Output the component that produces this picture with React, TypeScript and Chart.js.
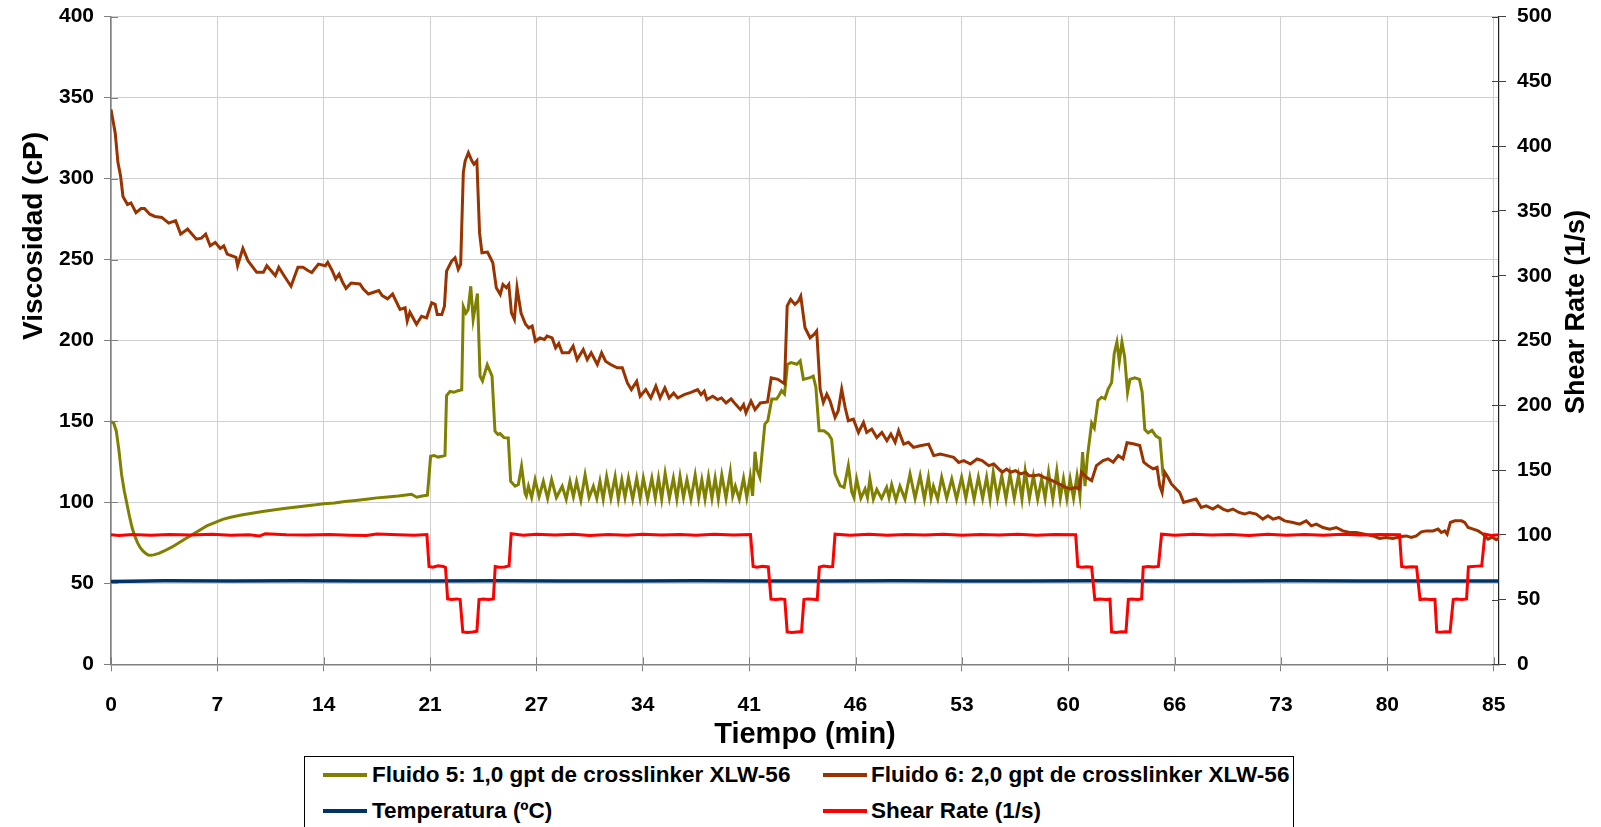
import React, { useEffect, useRef } from 'react';
import { Chart, registerables } from 'chart.js';

Chart.register(...registerables);

// ---- Axis / labels ----
const TIME_LABELS = ['0', '7', '14', '21', '27', '34', '41', '46', '53', '60', '66', '73', '80', '85'];
const SAMPLES_PER_LABEL = 40; // readings between two labelled times
const LAST_SAMPLE = 522;
const Y_LEFT_MAX = 400;
const Y_RIGHT_MAX = 500;
const Y_STEP = 50;

const X_TITLE = 'Tiempo (min)';
const Y_LEFT_TITLE = 'Viscosidad (cP)';
const Y_RIGHT_TITLE = 'Shear Rate (1/s)';

const SERIES_NAMES = [
  'Fluido 5: 1,0 gpt de crosslinker XLW-56',
  'Fluido 6: 2,0 gpt de crosslinker XLW-56',
  'Temperatura (ºC)',
  'Shear Rate (1/s)',
];
const SERIES_COLORS = ['#808000', '#993300', '#003366', '#ff0000'];

// ---- Data: [sample index, value] ----
const FLUIDO5: [number, number][] = [
  [0, 150], [1, 149], [2, 144], [3, 132], [4, 117], [5, 107], [6, 99], [7, 91], [8, 84], [9, 79], [10, 75],
  [11, 72], [12, 70], [13, 68.5], [14, 67.5], [15, 67.3], [16, 67.6], [18, 68.5], [20, 70], [23, 72.5],
  [26, 75.5], [30, 79.5], [33, 82.5], [36, 85.5], [39, 87.5], [42, 89.5], [45, 90.8], [49, 92.2], [53, 93.3],
  [57, 94.4], [61, 95.3], [65, 96.2], [69, 97], [73, 97.8], [77, 98.5], [80, 99.2], [84, 99.6], [88, 100.5],
  [92, 101.2], [96, 102], [100, 102.8], [104, 103.4], [108, 104], [111, 104.6], [113, 105], [115, 103.2],
  [117, 104], [119, 104.5],
  [120.2, 128.5], [121.5, 129], [123, 128], [124.5, 128.5], [125.6, 129], [126.2, 166], [127.5, 168.5],
  [129, 168], [130.5, 169], [131.9, 169.5], [132.5, 221], [133.5, 217], [134.3, 219], [135.3, 233.5],
  [136.2, 213], [137.8, 229], [138.8, 178], [139.7, 175], [141.5, 185], [143.3, 178], [144.4, 144],
  [145.5, 142], [146.3, 142.5], [147.8, 140], [149.4, 139.8], [150.3, 113], [152, 110], [153.2, 111],
  [154.4, 122.3], [155.7, 105.8],
  [156.2, 104], [157, 110], [158.2, 103], [159.5, 114], [161, 103.5], [162.6, 113], [164.2, 102.5],
  [165.7, 114], [167.5, 103], [169.7, 110], [171.2, 102], [172.6, 113], [173.9, 103.5], [175.1, 113],
  [176.7, 101.5], [178.3, 117], [179.8, 103], [181.4, 110], [182.7, 102.5], [183.9, 113], [185.1, 102],
  [186.4, 116], [188, 102.5], [189.6, 116], [190.8, 102], [192.1, 114], [193.3, 103], [194.6, 115],
  [196.2, 102], [197.7, 115], [199, 102.5], [200.2, 115], [201.8, 102], [203.4, 115], [204.7, 102.5],
  [205.9, 115], [207.1, 102], [208.4, 118], [210, 102.5], [211.5, 115], [212.8, 102], [214, 116],
  [215.3, 103], [216.6, 114], [218.1, 102], [219.7, 117], [221, 102.5], [222.2, 114], [223.4, 102],
  [224.7, 116], [226, 102.5], [227.2, 115], [228.4, 102], [229.7, 117], [231.3, 102.5], [232.9, 119],
  [233.8, 104], [234.8, 110], [236.3, 102], [237.9, 115], [239.1, 103], [240.4, 116], [241.3, 104],
  [242.2, 131.3], [243, 120], [244, 115.5], [245.9, 148.4], [247, 150.4], [248.5, 163.8], [250.3, 163.8],
  [251.2, 166], [252.2, 169], [253.3, 167], [254.4, 185.3], [255.8, 186.3], [257.9, 185.3], [259.2, 187.4],
  [260.4, 176], [262.9, 177.1], [264.1, 178], [265.1, 171], [266.3, 144.3], [268.1, 144.3], [269.8, 142.2],
  [271, 139], [272.3, 117.6], [274.2, 110.4], [275.7, 109.3], [277.3, 122.7], [278.6, 106.3],
  [279.4, 103], [280.4, 114.5], [282, 102.5], [283.6, 108.3], [284.5, 103], [285.4, 114.5], [286.7, 102],
  [288, 108], [289.8, 102.5], [291.7, 109.3], [292.6, 103], [293.6, 111], [295.2, 101.5], [296.7, 110],
  [298.6, 102], [300.5, 117.5], [302.4, 102.5], [304.3, 116.5], [305.9, 102], [307.4, 115.5], [308.4, 103],
  [309.3, 110], [310.9, 102], [312.4, 115.5], [314.3, 102.5], [316.2, 114.5], [318, 102], [319.9, 115.5],
  [321.5, 102.5], [323, 115.5], [324.6, 102], [326.2, 115.5], [327.8, 102.5], [329.3, 115.5], [330.6, 102],
  [331.8, 118.6], [333.4, 102.5], [335, 116.5], [336.6, 102], [338.1, 117.5], [339.7, 102.5], [341.3, 116.5],
  [342.6, 102], [343.8, 119.6], [345.4, 102.5], [346.9, 116.5], [348.5, 102], [350, 114.5], [351.3, 102.5],
  [352.6, 118.6], [354.2, 102], [355.7, 119.6], [357, 102.5], [358.2, 114.5], [359.5, 102], [360.7, 114.5],
  [362, 102.5], [363.3, 116.5], [364.4, 104],
  [365.4, 131], [366.3, 110], [367.2, 128], [368.8, 149], [369.8, 146], [371.2, 163], [372.5, 165],
  [373.8, 164], [375, 170], [376.3, 174], [377.3, 192], [378.3, 199], [379.2, 187], [380.2, 199],
  [381.2, 190], [382.3, 168], [383.2, 176], [385, 177], [386.8, 176], [387.8, 168], [388.8, 145],
  [390, 143], [391.5, 144.5], [393, 141], [394.5, 139.5], [395.7, 116],
];

const FLUIDO6: [number, number][] = [
  [0, 342.7], [1.6, 328], [2.6, 310], [3.6, 301.6], [4.5, 289], [6.2, 284], [7.5, 285], [9.4, 279],
  [11.3, 281.5], [12.6, 281.5], [14.6, 278], [16.5, 276.6], [19.1, 276], [21.7, 272.5], [24.3, 274],
  [26.2, 265.7], [28.8, 268.8], [32.1, 262.6], [34, 263.2], [35.6, 265.7], [37.3, 258.5], [39.2, 260.6],
  [41.1, 256.9], [42.4, 258.5], [43.7, 253.4], [47, 251.3], [47.6, 246.2], [49.6, 256.9], [51.5, 249.3],
  [54.8, 242.1], [57.3, 242.1], [58.6, 246.2], [61.8, 240], [63.1, 245.2], [65.1, 240], [67.7, 233.5],
  [70.3, 245.2], [72.2, 245.2], [74.2, 243.1], [75.5, 242], [78, 247.2], [80.6, 246.2], [81.5, 248.3],
  [83.2, 243.1], [84.5, 238], [85.8, 241], [87.1, 236], [88.4, 232.2], [90.3, 235.5], [93.6, 234.9],
  [94.9, 231.8], [96.8, 228.7], [98.8, 229.8], [100.7, 230.8], [102, 227.7], [104, 225.7], [105.9, 228.7],
  [108.7, 219.2], [110.6, 220.2], [111.4, 212], [112.4, 217.5], [114.9, 210], [116.8, 215], [118.7, 214],
  [120.6, 223.3], [121.9, 222.3], [122.7, 216], [124.4, 216], [125.4, 221.2], [126.2, 242.9], [128.1, 249],
  [129.4, 251.1], [130.6, 244], [131.5, 247], [132.5, 303.7], [133.2, 311], [134.4, 316], [135.7, 311],
  [136.5, 308.9], [137.6, 311], [138.6, 266.6], [139.5, 254.2], [141.6, 254.6], [143.6, 248], [144.9, 232.6],
  [146.4, 228.5], [147.4, 234.6], [148.7, 232.6], [149.6, 234.6], [150.6, 217], [151.7, 213], [152.7, 232.6],
  [154.2, 217], [155.9, 210], [157.1, 207.8], [158.4, 208.9], [159.6, 199.6], [161.3, 201.6], [163, 200.6],
  [164, 202.7], [165.9, 201.6], [167.2, 195.5], [168.4, 198.1], [169.7, 192.4], [172.2, 192.4], [173.8, 196.5],
  [175.3, 188.2], [177.6, 194.4], [179.1, 188.2], [180.6, 192.4], [182.9, 185.2], [184.5, 192.4], [186, 187.2],
  [187.9, 185.2], [190.4, 183.1], [192.3, 183.1], [194.2, 173.8], [195.7, 169.7], [197.7, 174.8], [199, 165.6],
  [201.1, 169.7], [203, 164.5], [204.9, 171.8], [206.5, 164.5], [208.3, 170.7], [209.9, 164.5], [211.6, 167.6],
  [213.1, 164.5], [215.6, 166.6], [218.1, 168], [220.6, 169.7], [221.9, 166.6], [223.1, 168.7], [224.1, 163.5],
  [226.3, 165.6], [228.1, 163.5], [229.6, 164.5], [231.3, 161.4], [233.2, 163.9], [235, 160.4], [236.7, 157.3],
  [237.9, 160.4], [238.8, 155.3], [240.7, 162.5], [242.2, 157.3], [244.2, 161.4], [246.9, 162], [248.3, 177],
  [250.8, 176], [253.3, 173.3], [254.3, 221.3], [255.6, 225.4], [257.2, 222.3], [258.5, 224.3], [259.4, 227.4],
  [261, 207.9], [262.9, 201.7], [264.4, 203.8], [265.4, 205.9], [266.7, 169.9], [267.9, 161.7], [269.2, 166.8],
  [270.4, 162.7], [272.3, 152.5], [273.5, 156.6], [274.8, 169.9], [276.1, 158.6], [277.3, 150.4], [279.2, 151.4],
  [281.1, 143.2], [283, 149.4], [284.2, 143.2], [286.1, 145.3], [288, 140.1], [289.9, 143.2], [291.8, 138.1],
  [293.3, 142.2], [294.9, 137.1], [296.2, 144.3], [298.1, 136], [299.9, 137.1], [301.8, 134], [304.3, 135],
  [307.5, 136], [309.4, 128.9], [311.9, 129.9], [314.4, 128.9], [316.9, 127.8], [318.8, 124.7], [320.7, 125.8],
  [323.2, 123.7], [325.7, 126.8], [327.6, 125.8], [330.1, 122.7], [332, 123.7], [333.9, 120.6], [335.2, 118.6],
  [336.8, 120.6], [338.3, 118.6], [340.2, 119.6], [342.1, 117.6], [344, 118.6], [345.2, 116.5], [347.1, 116.5],
  [349, 117], [350.9, 115.5], [353.2, 114], [355.3, 112.4], [357, 111], [359.1, 109.3], [360.9, 108.3],
  [362.8, 109.3], [364.1, 108.3], [365, 118.6], [366.9, 115.5], [368.8, 113.4], [370.6, 122.7], [373.1, 125.8],
  [375, 126.9], [376.9, 124.8], [378.8, 128.9], [380.6, 126.9], [382.1, 136.8], [384.4, 136.2], [386.9, 135.1],
  [388.4, 124.8], [390, 122.7], [391.9, 120.7], [393.4, 121.7], [394.4, 110.3], [395.3, 106.2], [396.3, 118.6],
  [397.5, 115.5], [398.8, 111.4], [400.6, 108.3], [401.9, 106.2], [403.4, 100], [405.6, 101], [408.1, 102.1],
  [410, 96.9], [411.9, 97.9], [414.4, 95.9], [416.3, 97.9], [418.2, 95.9], [420, 94.8], [421.9, 95.9],
  [424.2, 93.8], [426.3, 92.8], [428.2, 93.8], [430.7, 92.8], [433.2, 89.7], [435.1, 91.7], [437, 89.7],
  [439.2, 90.7], [441.4, 88.6], [444.5, 87.6], [447, 86.6], [449.5, 88.6], [451.4, 85.5], [453.3, 86.6],
  [455.8, 84.5], [458.3, 83.5], [460.8, 84.5], [463.3, 82.4], [465.8, 81.4], [468.3, 81.4], [471.5, 80.4],
  [474.6, 79.3], [477.1, 77.7], [479.6, 78.3], [482.1, 77.7], [485.3, 78.9], [487.2, 79.3], [489, 78.3],
  [490.9, 79.3], [492.8, 81.8], [494.7, 82.4], [497.2, 82.4], [499.1, 83.5], [500.3, 81.4], [501.6, 82.4],
  [502.5, 80.4], [503.7, 87.6], [505.4, 88.6], [507.9, 88.6], [509.1, 87.6], [510.4, 84.5], [512.3, 83.5],
  [514.2, 82.4], [516, 80.4], [517.9, 77.3], [519.5, 78.5], [521, 77], [522, 78],
];

const TEMPERATURA: [number, number][] = [
  [0, 51.2], [20, 51.6], [45, 51.4], [70, 51.6], [95, 51.5], [120, 51.4], [145, 51.6], [170, 51.5],
  [195, 51.4], [220, 51.6], [245, 51.5], [270, 51.4], [295, 51.6], [320, 51.5], [345, 51.4], [370, 51.6],
  [395, 51.5], [420, 51.4], [445, 51.6], [470, 51.5], [495, 51.4], [522, 51.5],
];

const SHEAR_RATE: [number, number][] = [
  [0, 100], [3, 99.5], [8, 100.3], [15, 99.6], [22, 100.2], [30, 99.8], [38, 100.4], [45, 99.7], [52, 100.1],
  [55.7, 99], [58, 100.8], [66, 100], [74, 99.8], [82, 100.3], [90, 99.7], [96, 99.4], [100, 100.6], [108, 100],
  [114, 99.7], [118.8, 100.2],
  [119.6, 75.5], [121, 75], [123, 76], [125, 75.5], [125.8, 74.8], [126.6, 50.5], [128, 50], [130, 50.5],
  [131.3, 50], [132.3, 25], [134, 24.5], [136, 25], [137.6, 25.5], [138.4, 50], [140, 50.5], [142, 50],
  [143.8, 50.5], [144.5, 75.5], [146, 75], [148, 75.2], [149.7, 76], [150.5, 100.8],
  [155, 99.6], [160, 100.4], [167, 99.8], [174, 100.5], [180, 99.5], [187, 100.2], [194, 99.7], [200, 100.5],
  [207, 99.8], [214, 100.3], [220, 99.6], [227, 100.4], [234, 99.9], [240.5, 100.2],
  [241.5, 75.5], [243, 75], [245, 75.6], [247.2, 75.2], [248.2, 50.3], [250, 50], [252, 50.5], [253.4, 50],
  [254.3, 25], [256, 24.6], [258, 25], [259.7, 25.3], [260.6, 50], [262, 50.5], [264, 50.2], [265.6, 50],
  [266.4, 75], [268, 75.8], [270, 75.3], [271.4, 75.5], [272.3, 100.5],
  [278, 99.7], [285, 100.4], [292, 99.6], [299, 100.3], [306, 99.8], [313, 100.4], [320, 99.7], [327, 100.3],
  [334, 99.8], [341, 100.4], [348, 99.6], [355, 100.2], [362.8, 100],
  [363.6, 75.5], [365, 75], [367, 75.3], [368.8, 75], [370, 50], [372, 50.5], [374, 50], [375.7, 50.3],
  [376.3, 25], [378, 24.6], [380, 25.2], [381.7, 25], [382.6, 50.2], [384, 50.5], [386, 50], [387.6, 50.4],
  [388.2, 75], [390, 75.5], [392, 75.2], [393.9, 75.6], [395.1, 100.5],
  [400, 99.6], [407, 100.4], [414, 99.8], [421, 100.3], [428, 99.5], [435, 100.4], [442, 99.7], [449, 100.3],
  [456, 99.6], [463, 100.4], [470, 99.8], [477, 100.3], [484.6, 100],
  [485.4, 75.5], [487, 75], [489, 75.4], [491, 75.2], [492.3, 50], [494, 50.4], [496, 50], [497.9, 50.2],
  [498.6, 25], [500, 24.7], [502, 25.2], [503.6, 25], [504.8, 50], [506, 50.4], [508, 50.1], [509.8, 50.5],
  [510.5, 75.2], [512, 75.5], [514, 75.8], [515.5, 76], [516.7, 100.5], [519, 99.5], [522, 100],
];

const FONT_FAMILY = '"Liberation Sans", Arial, Helvetica, sans-serif';

const toXY = (pts: [number, number][]) => pts.map(([x, y]) => ({ x, y }));

const overlayPlugin = {
  id: 'overlayTitles',
  afterDraw(chart: any) {
    const { ctx, chartArea, scales } = chart;
    ctx.save();
    // inner halves of the crossing tick marks
    ctx.lineWidth = 1;
    ctx.strokeStyle = '#808080';
    scales.y.ticks.forEach((t: any) => {
      const y = Math.round(scales.y.getPixelForValue(t.value)) + 0.5;
      ctx.beginPath(); ctx.moveTo(chartArea.left, y); ctx.lineTo(chartArea.left + 7, y); ctx.stroke();
    });
    scales.x.ticks.forEach((t: any) => {
      const x = Math.round(scales.x.getPixelForValue(t.value)) + 0.5;
      ctx.beginPath(); ctx.moveTo(x, chartArea.bottom); ctx.lineTo(x, chartArea.bottom - 7); ctx.stroke();
    });
    ctx.strokeStyle = '#404040';
    scales.y2.ticks.forEach((t: any) => {
      const y = Math.round(scales.y2.getPixelForValue(t.value)) + 0.5;
      ctx.beginPath(); ctx.moveTo(chartArea.right - 7, y); ctx.lineTo(chartArea.right, y); ctx.stroke();
    });
    // axis titles
    ctx.fillStyle = '#000';
    ctx.textAlign = 'center';
    ctx.textBaseline = 'middle';
    ctx.font = `bold 29px ${FONT_FAMILY}`;
    ctx.fillText(X_TITLE, (chartArea.left + chartArea.right) / 2, 735);
    ctx.font = `bold 28px ${FONT_FAMILY}`;
    ctx.save();
    ctx.translate(34, 236);
    ctx.rotate(-Math.PI / 2);
    ctx.fillText(Y_LEFT_TITLE, 0, 0);
    ctx.restore();
    ctx.save();
    ctx.font = `bold 27px ${FONT_FAMILY}`;
    ctx.translate(1577, 312);
    ctx.rotate(-Math.PI / 2);
    ctx.fillText(Y_RIGHT_TITLE, 0, 0);
    ctx.restore();
    ctx.restore();
  },
};

const LEGEND_ITEMS = [
  { name: SERIES_NAMES[0], color: SERIES_COLORS[0], line: 323, text: 372, y: 775 },
  { name: SERIES_NAMES[1], color: SERIES_COLORS[1], line: 823, text: 871, y: 775 },
  { name: SERIES_NAMES[2], color: SERIES_COLORS[2], line: 323, text: 372, y: 811 },
  { name: SERIES_NAMES[3], color: SERIES_COLORS[3], line: 823, text: 871, y: 811 },
];

const zeroPad = (s: any) => {
  s.paddingTop = 0;
  s.paddingBottom = 0;
};

export default function App() {
  const canvasRef = useRef<HTMLCanvasElement | null>(null);

  useEffect(() => {
    if (!canvasRef.current) return;
    const tickFont = { family: FONT_FAMILY, size: 21, weight: 'bold' as const };
    const chart = new Chart(canvasRef.current, {
      type: 'line',
      data: {
        datasets: [
          { label: SERIES_NAMES[0], data: toXY(FLUIDO5), borderColor: SERIES_COLORS[0], borderWidth: 3, pointRadius: 0, yAxisID: 'y', order: 4 },
          { label: SERIES_NAMES[1], data: toXY(FLUIDO6), borderColor: SERIES_COLORS[1], borderWidth: 3, pointRadius: 0, yAxisID: 'y', order: 3 },
          { label: SERIES_NAMES[2], data: toXY(TEMPERATURA), borderColor: SERIES_COLORS[2], borderWidth: 3.5, pointRadius: 0, yAxisID: 'y', order: 2 },
          { label: SERIES_NAMES[3], data: toXY(SHEAR_RATE), borderColor: SERIES_COLORS[3], borderWidth: 3, pointRadius: 0, yAxisID: 'y2', order: 1 },
        ],
      },
      options: {
        responsive: false,
        animation: false,
        devicePixelRatio: 1,
        layout: { padding: { top: 16.7, left: 0, right: 0, bottom: 0 } },
        plugins: { legend: { display: false }, tooltip: { enabled: false } },
        elements: { line: { tension: 0 } },
        scales: {
          x: {
            type: 'linear',
            min: 0,
            max: LAST_SAMPLE,
            afterBuildTicks: (s: any) => {
              s.ticks = TIME_LABELS.map((_, i) => ({ value: i * SAMPLES_PER_LABEL }));
            },
            afterFit: (s: any) => {
              s.height = 827 - 664.3;
              s.paddingLeft = 0;
              s.paddingRight = 0;
            },
            ticks: {
              autoSkip: false,
              maxRotation: 0,
              padding: 21,
              color: '#000',
              font: tickFont,
              callback: (v: any) => TIME_LABELS[Math.round(Number(v) / SAMPLES_PER_LABEL)] ?? '',
            },
            grid: { color: '#d0d0d0', lineWidth: 1, tickColor: '#808080', tickLength: 7 },
            border: { color: '#808080', width: 1.5 },
          },
          y: {
            type: 'linear',
            position: 'left',
            min: 0,
            max: Y_LEFT_MAX,
            afterFit: (s: any) => { s.width = 111; zeroPad(s); },
            ticks: { stepSize: Y_STEP, padding: 10, color: '#000', font: tickFont },
            grid: { color: '#d0d0d0', lineWidth: 1, tickColor: '#808080', tickLength: 7 },
            border: { color: '#808080', width: 1.5 },
          },
          y2: {
            type: 'linear',
            position: 'right',
            min: 0,
            max: Y_RIGHT_MAX,
            afterFit: (s: any) => { s.width = 102; zeroPad(s); },
            ticks: { stepSize: Y_STEP, padding: 11, color: '#000', font: tickFont },
            grid: { drawOnChartArea: false, tickColor: '#404040', tickLength: 7 },
            border: { color: '#202020', width: 1.2 },
          },
        },
      },
      plugins: [overlayPlugin],
    });
    return () => chart.destroy();
  }, []);

  return (
    <div style={{ position: 'fixed', left: 0, top: 0, width: 1601, height: 827, overflow: 'hidden', background: '#fff' }}>
      <canvas ref={canvasRef} width={1601} height={827} style={{ display: 'block', position: 'absolute', left: 0, top: 0 }} />
      <div
        style={{
          position: 'absolute', left: 304, top: 756, width: 990, height: 90,
          border: '1.5px solid #000', boxSizing: 'border-box', background: '#fff',
        }}
      />
      {LEGEND_ITEMS.map((it) => (
        <React.Fragment key={it.name}>
          <div style={{ position: 'absolute', left: it.line, top: it.y - 2, width: 44, height: 4, background: it.color }} />
          <div
            style={{
              position: 'absolute', left: it.text, top: it.y - 14, height: 28, lineHeight: '28px',
              fontFamily: FONT_FAMILY, fontWeight: 'bold', fontSize: 22.5, color: '#000', whiteSpace: 'nowrap',
            }}
          >
            {it.name}
          </div>
        </React.Fragment>
      ))}
    </div>
  );
}
